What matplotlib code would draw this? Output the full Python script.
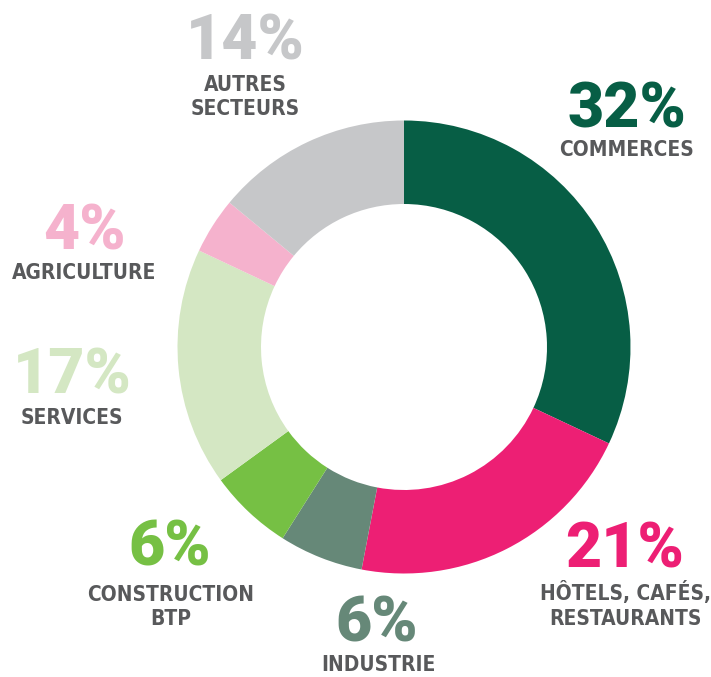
import matplotlib.pyplot as plt

# données
secteurs = ["COMMERCES", "HÔTELS, CAFÉS,\nRESTAURANTS", "INDUSTRIE", "CONSTRUCTION\nBTP",
            "SERVICES", "AGRICULTURE", "AUTRES\nSECTEURS"]
parts = [32, 21, 6, 6, 17, 4, 14]
couleurs = ["#075E45", "#ED1F74", "#668878", "#76C044", "#D4E7C3", "#F5B2CD", "#C6C7C9"]

# positions des étiquettes (pixels, origine en haut à gauche)
pos_pct = [(627, 110), (625, 550), (377, 625), (170, 548), (72, 377), (85, 232), (245, 42)]
pos_lab = [(627, 150), (625, 605), (378, 665), (171, 607), (72, 418), (84, 273), (245, 97)]

W, H = 711, 677

fig = plt.figure(figsize=(W / 100, H / 100), dpi=100)
ax = fig.add_axes([0, 0, 1, 1])

# anneau
ax.pie(parts, colors=couleurs, startangle=90, counterclock=False,
       center=(404, H - 347), radius=226.5, frame=True,
       wedgeprops=dict(width=226.5 - 143, linewidth=0))
ax.set_xlim(0, W)
ax.set_ylim(0, H)
ax.set_aspect("equal")
ax.axis("off")

# pourcentages
for p, c, (x, y) in zip(parts, couleurs, pos_pct):
    ax.text(x, H - y, f"{p}%", color=c, fontsize=45, fontweight="black",
            family=["Roboto", "DejaVu Sans"], ha="center", va="center")

# noms des secteurs
for s, (x, y) in zip(secteurs, pos_lab):
    ax.text(x, H - y, s, color="#58595B", fontsize=15, fontweight="bold",
            fontstretch="condensed", family=["DejaVu Sans"],
            ha="center", va="center", linespacing=1.3)

fig.savefig("out.png", dpi=100)
